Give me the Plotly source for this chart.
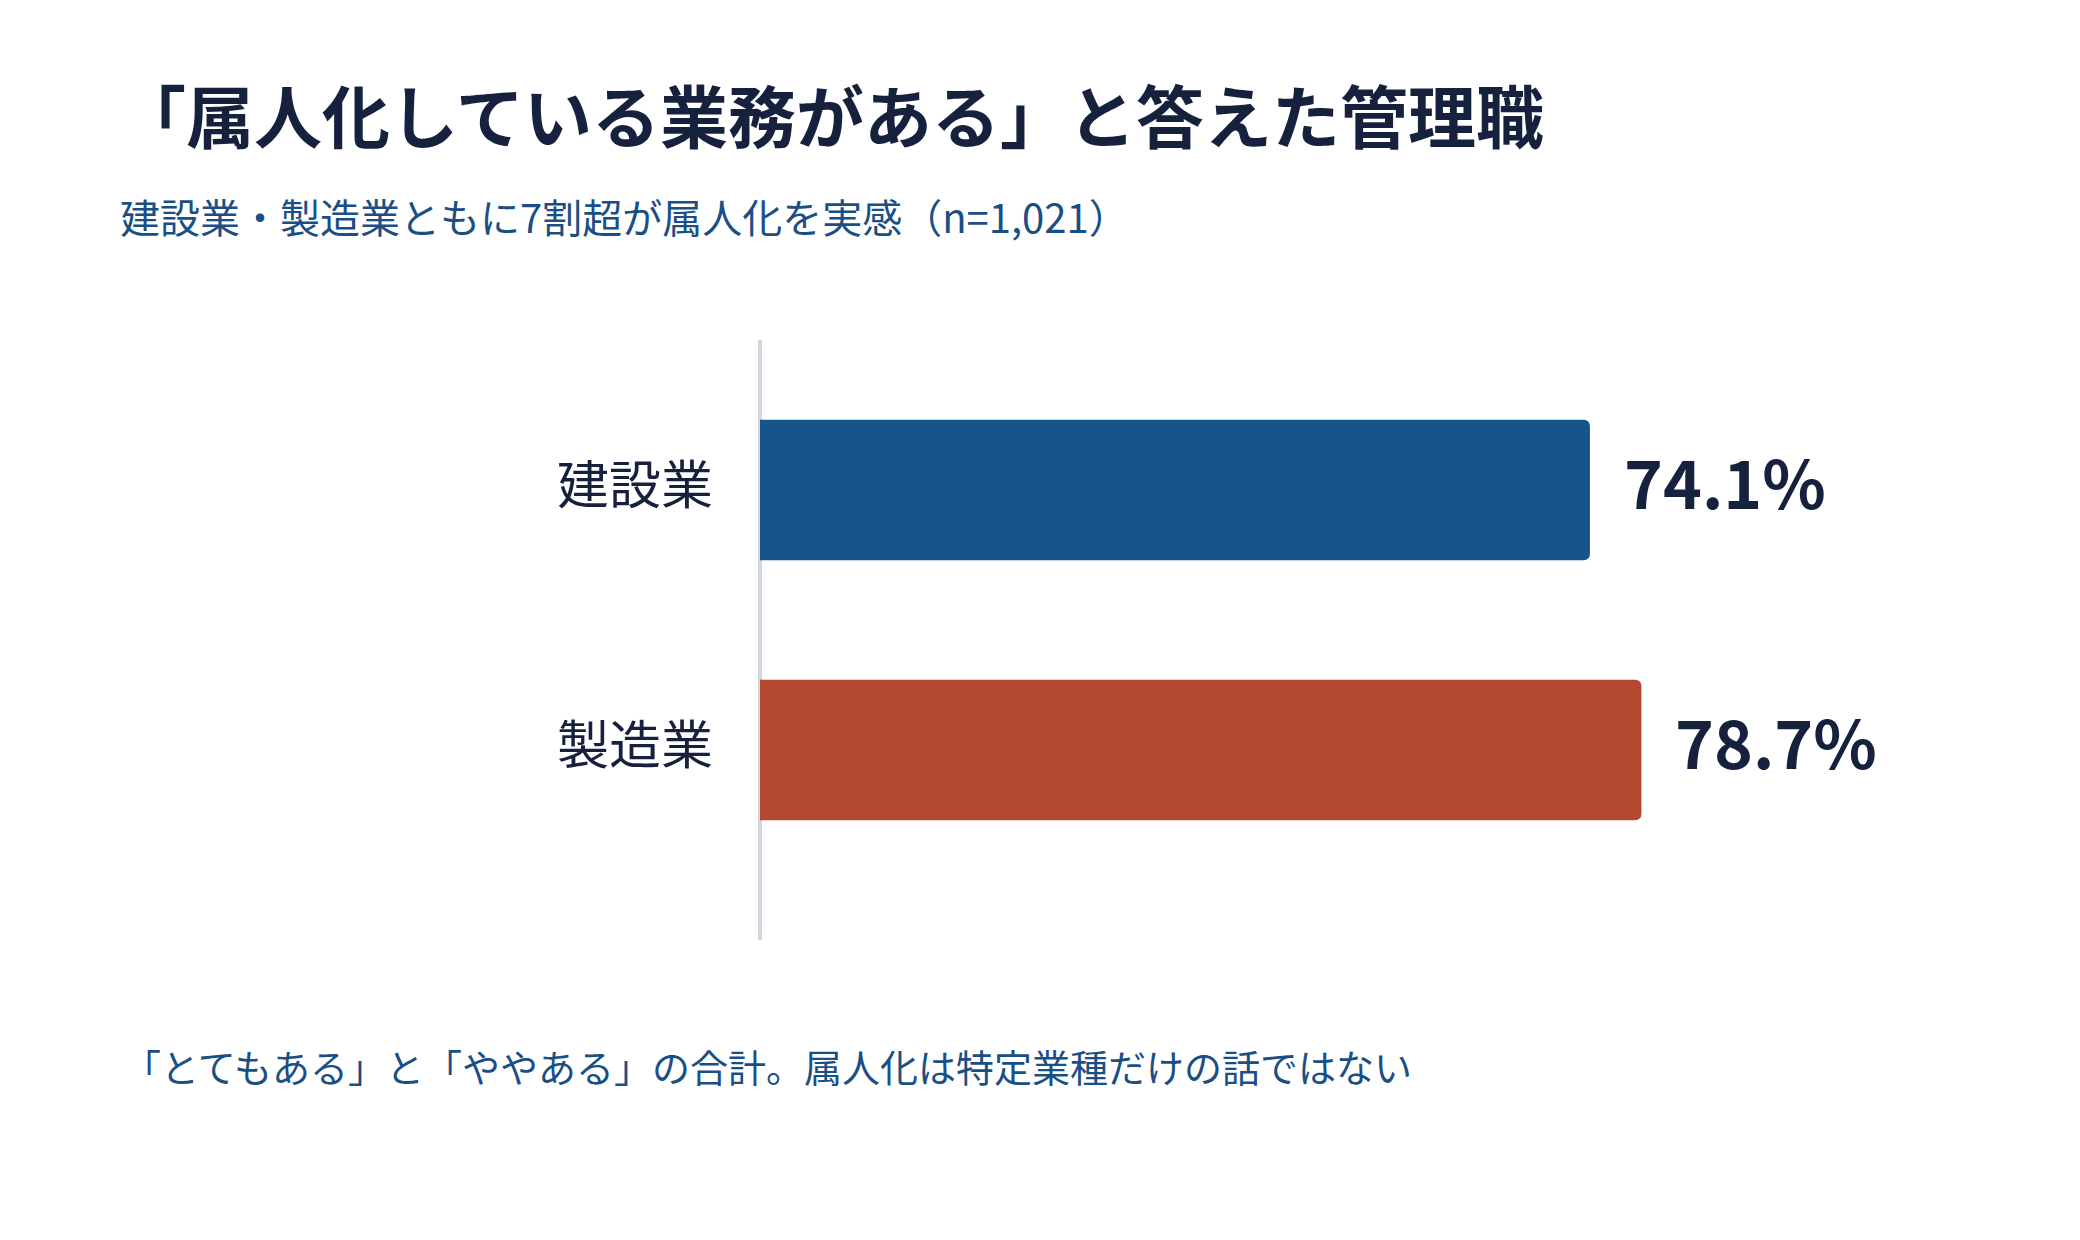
import plotly.graph_objects as go

categories = ["建設業", "製造業"]
values = [74.1, 78.7]
bar_colors = ["#165489", "#b44831"]

title_text = "「属人化している業務がある」と答えた管理職"
subtitle_text = "建設業・製造業ともに7割超が属人化を実感（n=1,021）"
footer_text = "「とてもある」と「ややある」の合計。属人化は特定業種だけの話ではない"

FONT = "Noto Sans CJK JP"
DARK = "#15213d"
BLUE = "#1a4f86"

W, H = 2080, 1240
L, R, T, B = 760, 200, 340, 300
pw, ph = W - L - R, H - T - B


def px_x(x):
    return (x - L) / pw


def px_y(y):
    return (H - B - y) / ph


fig = go.Figure()
fig.add_trace(go.Bar(
    x=values, y=categories, orientation="h",
    marker=dict(color=bar_colors, cornerradius=6, line=dict(width=0)),
    width=0.54, hoverinfo="skip",
))

for c, v in zip(categories, values):
    fig.add_annotation(
        x=v, y=c, xref="x", yref="y", text=f"{v}%", showarrow=False,
        xanchor="left", yanchor="middle", xshift=32, yshift=10,
        font=dict(family=FONT, size=66, color=DARK, weight="bold"),
    )

fig.add_annotation(
    x=px_x(118), y=px_y(216), xref="paper", yref="paper", text=subtitle_text,
    showarrow=False, xanchor="left", yanchor="middle",
    font=dict(family=FONT, size=40, color=BLUE),
)
fig.add_annotation(
    x=px_x(121), y=px_y(1065), xref="paper", yref="paper", text=footer_text,
    showarrow=False, xanchor="left", yanchor="middle",
    font=dict(family=FONT, size=38, color=BLUE),
)

fig.add_shape(type="line", xref="paper", yref="paper", x0=0, x1=0, y0=0, y1=1,
              line=dict(color="#d3d8e0", width=4), layer="below")

fig.update_layout(
    width=W, height=H,
    margin=dict(l=L, r=R, t=T, b=B, autoexpand=False),
    paper_bgcolor="white", plot_bgcolor="white",
    showlegend=False,
    title=dict(text=title_text, x=118 / W, xanchor="left", xref="container",
               y=1 - 119 / H, yanchor="middle", yref="container",
               font=dict(family=FONT, size=68, color=DARK, weight="bold")),
    xaxis=dict(range=[0, 100], visible=False, fixedrange=True),
    yaxis=dict(type="category", range=[1.731, -0.577], showgrid=False, zeroline=False,
               showline=False, ticks="", ticklabelstandoff=46, ticklabelshift=4,
               tickfont=dict(family=FONT, size=52, color=DARK)),
)

fig.write_html("out.html")
